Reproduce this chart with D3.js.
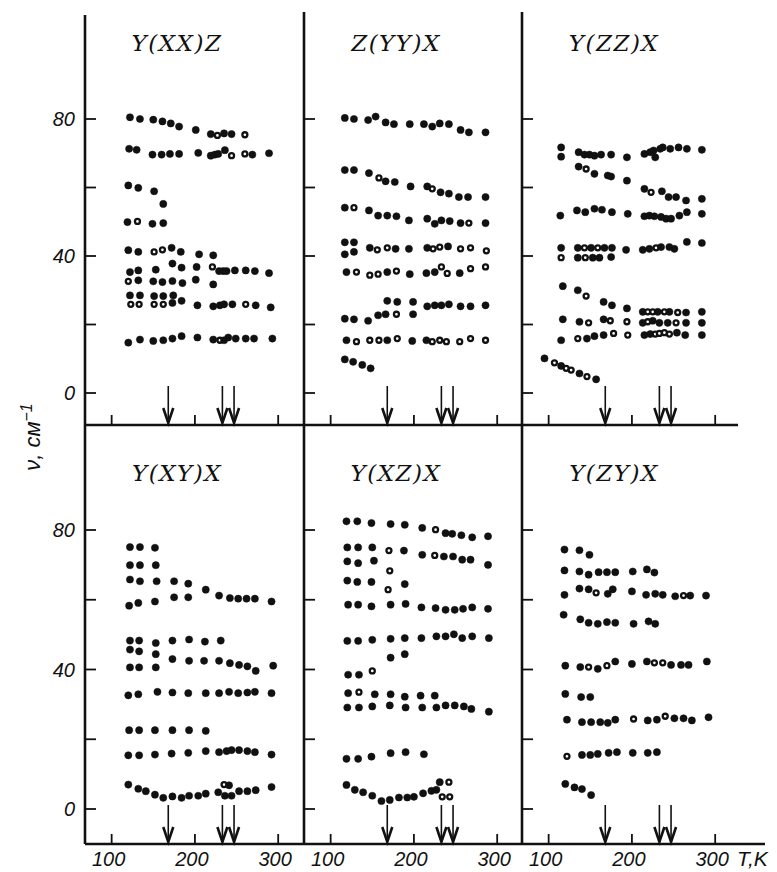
<!DOCTYPE html>
<html>
<head>
<meta charset="utf-8">
<script src="https://cdn.jsdelivr.net/npm/d3@7"></script>
<style>
  html, body { margin: 0; padding: 0; background: #fff; }
  svg { display: block; }
  .num { font-family: "Liberation Sans", sans-serif; font-style: italic; font-size: 20px; fill: #111; }
  .title { font-family: "DejaVu Serif", serif; font-style: italic; font-size: 23px; letter-spacing: 1.5px; fill: #111; }
</style>
</head>
<body>
<div id="chart"></div>
<script>
// Raman modes vs temperature, six scattering geometries.
// Each point: [T (K), frequency (cm^-1)], a third element 1 marks an open circle.
const titles = ["Y(XX)Z", "Z(YY)X", "Y(ZZ)X", "Y(XY)X", "Y(XZ)X", "Y(ZY)X"];
const xTicks = [100, 200, 300];
const yTicks = [0, 20, 40, 60, 80];
const yTickLabels = [0, 40, 80];
const arrowsT = [168, 233, 247];   // phase transition marks

const yxxz = [
  [122,80.5],[134,80],[150,79.8],[161,79.3],[171,78.7],[181,77.8],[201,76.8],[219,75.6],[227,75.2,1],[235,75.8],[244,75.6],[260,75.4,1],
  [121,71.3],[130,71],[149,69.6],[160,69.6],[170,69.8],[181,69.8],[204,70.1],[219,69.3],[224,69.6],[228,69.8],[236,70.9],[244,69.3,1],[260,69.8,1],[269,69.6],[289,70],
  [120,60.6],[132,59.9],[151,58.9],[162,55.2],
  [119,49.9],[131,50.1,1],[149,49.4],[162,49.6],
  [120,41.7],[132,41.2],[151,41.2,1],[161,41.8,1],[172,42.4],[183,41.2],[205,40.5],[222,40.2],
  [122,35.3],[132,35.8],[153,36],[173,37.8],[184,36.6],[202,36.8],[221,36.8,1],[229,35.6],[234,35.6],[238,35.6],[248,35.8],[261,35.8],[272,35.6],[289,35],
  [120,32.6,1],[132,32.9],[150,32.6],[161,32.4],[173,32.7],[185,32.1],[201,33.1],[222,31.7],
  [122,28.5],[134,28.5],[151,28.3],[162,28.3],[174,28.5],
  [123,25.9,1],[133,25.9,1],[151,25.9,1],[162,25.9,1],[173,26.3],[184,26.9],[203,25.6],[222,25.3],[230,25.6],[235,25.9],[245,25.9],[261,25.9,1],[273,25.6],[291,25],
  [120,14.7],[134,15.6],[150,15.2],[162,15.4],[173,15.9],[184,16.6],[203,16.2],[222,15.6],[230,15.4,1],[235,15.4],[240,16.2],[249,15.9],[261,15.9],[271,15.9],[293,15.9]
];

const zyyx = [
  [117,80.3],[128,80],[145,79.7],[154,80.7],[166,79],[176,78.5],[195,78.5],[212,78.5],[222,77.8],[231,78.7],[242,78.5],[256,76.8],[266,76.1],[286,76.1],
  [117,65.1],[128,65.1],[146,64.2],[158,62.8,1],[166,61.8],[177,61.6],[196,60.3],[216,60.3],[222,59.6,1],[232,58.6],[242,58.2],[254,57.2],[265,57.2],[286,57.2],
  [117,54.1],[128,54.1,1],[146,53.3],[157,51.8],[168,51.8],[179,51.6],[194,50.4],[216,50.9],[225,49.4],[233,50.4],[243,50.2],[256,49.6],[266,49.6,1],[286,49.6],
  [117,44],[128,44],
  [117,40.5],[128,41.2],[147,42.4],[156,41.8,1],[168,42.4,1],[178,42.1],[194,42.1],[216,42.4],[223,42.1,1],[231,42.6,1],[241,42.8],[256,42.1,1],[268,42.4,1],[287,41.5,1],
  [119,35.3],[131,35.3,1],[147,34.4,1],[157,34.7,1],[168,35.3],[179,35.6,1],[195,34.7],[215,35],[225,35.3],[233,36.8,1],[240,34.9,1],[255,35],[268,36.3,1],[286,36.8,1],
  [168,26.9],[180,26.6],[199,26.6],[216,25.3],[225,25.6],[233,25.6],[242,25.9],[256,25.3],[268,25.3],[286,25.6],
  [117,21.7],[128,21.5],[145,21.1],[157,22.7],[166,23],[179,23,1],[199,23],
  [119,15.4],[131,15,1],[147,15.4,1],[158,15.4,1],[168,15.4],[180,15.9,1],[198,15.2],[215,15.4],[222,15,1],[231,15.4,1],[239,15,1],[255,15,1],[268,15.9,1],[286,15.4,1],
  [117,9.8],[127,9.1],[138,8.2],[148,7.2]
];

const yzzx = [
  [115,71.7],[115,69],[136,70.3],[143,69.6],[149,69.6],[155,69.3],[163,69.6],[175,69.6],[194,68.8],[215,69.8],[222,70.3],[226,70.8],[228,68.8],[234,71.3],[237,71.7],[246,71.3],[256,71.7],[266,71.3],[284,71],
  [136,66.1],[145,65.4,1],[155,64],[171,63.5],[175,63.2],[194,62],[215,59.6],[223,58.6,1],[236,58.9],[244,57.2],[253,57.2],[265,56.2],[284,56.7],
  [114,51.8],[134,53.3],[144,52.8],[155,53.8],[164,53.5],[176,52.8],[195,52.3],[215,51.6],[221,51.8],[227,51.6],[235,51.4],[241,50.9],[247,50.9],[257,51.8],[266,52.8],[284,52.3],
  [115,42.4],[135,42.4],[143,42.4,1],[151,42.4],[159,42.4,1],[167,42.4],[176,42.4],[193,41.8],[213,41.8],[221,42.1],[229,42.4,1],[235,42.6],[245,42.6],[251,42.1],[266,44.1],[284,43.8],
  [115,39.5,1],[135,39.5],[144,39.5,1],[153,39.5],[161,39.5],[175,39.7],
  [117,31.2],[135,30],[145,28.3,1],[166,26.6],[176,25.6],[194,24.7],[213,23.7],[219,23.7,1],[225,23.7,1],[231,23.7],[239,23.7,1],[245,23.7],[255,23.5,1],[265,23.5],[284,23.7],
  [117,21.5],[137,20.8],[148,20.5,1],[166,21.5],[174,21.1,1],[194,20.8,1],[213,20.5],[219,20.8,1],[225,21.1],[233,20.5],[243,20.5],[253,20.5,1],[265,20.5],[284,20.5],
  [115,15.4],[135,15.9,1],[146,15.9],[155,16.6],[166,16.9],[178,17.4,1],[195,16.9,1],[215,16.9],[222,17.2],[228,17.2,1],[233,17.4,1],[239,17.6,1],[245,17.2,1],[254,17.6],[264,16.9],[284,16.9],
  [95,10.1],[107,8.8,1],[115,7.9],[121,7.2,1],[127,6.7,1],[137,5.7],[146,4.8,1],[157,4]
];

const yxyx = [
  [122,75.1],[134,75.1],[152,74.9],
  [122,69.9],[134,69.9],[153,69.9],
  [122,65.8],[134,65.3],[154,65.3],[175,65.3],[192,64.6],
  [121,58.3],[132,59.1],[152,59.5],[175,60.7],[192,60.7],[213,62.9],[229,61.2],[242,60.5],[252,60.3],[262,60.3],[272,60.3],[292,59.5],
  [122,48.3],[133,48.3],[153,47.6],[173,48.3],[193,48.6],[212,48],[231,48.3],
  [122,45.7],[133,45.2],[153,44.4],
  [173,43],[193,42.5],[211,42.5],[229,42.5],[242,41.8],[253,41.3],[263,40.9],[273,39.6],[294,41.1],
  [122,40.6],[133,40.6],[153,40.6],
  [120,32.6],[132,32.9],[155,33.6],[173,33.4],[192,33.2],[213,33.2],[229,33.2],[241,33.6],[252,33.2],[263,33.4],[272,33.6],[292,33.2],
  [121,22.6],[133,22.6],[152,22.6],[173,22.6],[193,22.6],[213,22.4],
  [120,15.4],[133,15.4],[152,15.6],[172,15.9],[192,16.1],[213,16.6],[229,16.3],[238,16.6],[244,16.9],[253,16.9],[263,16.6],[272,16.3],[292,15.6],
  [120,7],[132,5.8],[141,5.1],[152,4.1],[162,3.2],[173,3.6],[184,3.2],[193,3.8],[204,3.8],[213,4.4],[228,4.8],[235,7,1],[241,6.8],[236,3.8],[244,3.8],[253,5.1],[263,5.1],[273,5.4],[292,6.3]
];

const yxzx = [
  [119,82.5],[132,82.5],[149,82],[172,81.7],[189,81.5],[210,80.6],[226,80.1,1],[238,79.1],[246,78.9],[257,78.5],[270,77.9],[289,78.2],
  [120,75],[133,75],[150,75],[170,74.1,1],[188,74.1],[210,72.9],[225,72.7,1],[236,72.4],[247,72.4],[258,71.5],[268,71.5],[289,70],
  [120,71],[133,70.5],[152,71.2],
  [171,68.3,1],
  [120,65.5],[132,65.1],[149,65.1],
  [189,64.5],[169,62.9,1],
  [121,58.6],[133,58.6],[149,58.1],[172,58.6],[190,58.8],[209,57.8],[226,57.6],[238,57.1],[249,57.1],[259,57.4],[270,57.8],[289,57.4],
  [120,48.2],[133,48.2],[150,48.5],[172,48.8],[189,49],[209,49],[227,49.5],[238,49.5],[248,50.1],[258,49],[270,49.5],[290,49],
  [172,43.4],[189,44.4],
  [121,38.5],[134,38.5],[150,39.6,1],
  [121,33.2],[134,33.5,1],[153,32.9],[172,32.9],[189,32.2],[208,32.5],[225,32.5],
  [120,29.1],[134,29.1],[150,29.4],[171,29.7],[190,29.1],[210,29.1],[227,29.1],[238,29.7],[249,29.7],[260,29.4],[269,28.7],[290,27.9],
  [119,14.4],[133,14.4],[149,15],[172,16],[190,16.3],[212,15.7],
  [119,6.9],[129,5.5],[139,4.8],[150,3.8],[161,2.3],[171,2.6],[182,3.3],[192,3.3],[200,3.5],[211,4.5],[221,5.2],[227,5.5],[231,7.7],[242,7.7,1],[234,3.5,1],[243,3.5,1]
];

const yzyx = [
  [119,74.4],[137,74.2],[149,72.9],
  [119,68.4],[137,68.1],[148,67.2],[160,67.9],[170,67.9],[180,67.9],[201,68.1],[218,68.7],[227,67.8],
  [119,61.4],[137,63.2],[148,63],[157,62,1],[171,61.7],[177,63],[200,62.4],[217,61.4],[228,61.7],[237,61.4],[252,61],[262,61.2,1],[270,61.2],[289,61.2],
  [118,55.7],[138,54.4],[148,53.4],[159,53.1],[170,53.6],[180,53.4],[202,53.1],[220,53.8],[228,53.1],
  [120,41.1],[138,40.7],[148,40.7,1],[159,40.2],[170,41.1,1],[180,42.3],[200,41.6],[218,42.3],[227,41.9,1],[237,41.9,1],[247,41.3],[259,41.3],[268,41.3],[290,42.3],
  [120,33],[139,32.1],[150,32.1],
  [122,25.6],[140,24.9],[151,24.9],[162,24.9],[171,24.7],[180,25.6],[202,25.8,1],[219,25.4],[230,25.6],[240,26.6,1],[251,26],[262,26],[272,25.4],[292,26.3],
  [122,15.1,1],[140,15.5],[150,15.5],[159,15.8],[172,16.1],[182,16.3],[201,16.1],[219,16.1],[230,16.3],
  [120,7.2],[131,6.2],[140,5.7],[151,4]
];

const panelData = [yxxz, zyyx, yzzx, yxyx, yxzx, yzyx];

// layout: three columns share an x range, two rows stacked
const W = 777, H = 872;
const colLeft = [85, 304, 522];
const colW = 219;
const rows = [
  { top: 12, bottom: 425, y0: 393, y80: 119, titleY: 51 },
  { top: 425, bottom: 844, y0: 809, y80: 530, titleY: 481 }
];

const svg = d3.select("#chart").append("svg")
  .attr("width", W).attr("height", H)
  .attr("viewBox", `0 0 ${W} ${H}`);

const ink = "#111";

panelData.forEach((data, i) => {
  const col = i % 3, row = rows[Math.floor(i / 3)];
  const left = colLeft[col];
  const x = d3.scaleLinear().domain([68, 331]).range([left, left + colW]);
  const y = d3.scaleLinear().domain([0, 80]).range([row.y0, row.y80]);
  const g = svg.append("g");

  // left border of each panel
  g.append("line")
    .attr("x1", left).attr("x2", left)
    .attr("y1", i === 0 ? 15 : row.top).attr("y2", row.bottom)
    .attr("stroke", ink).attr("stroke-width", 2.6);

  // y ticks point into the panel
  g.selectAll(".yt").data(yTicks).join("line")
    .attr("x1", left).attr("x2", left + 11)
    .attr("y1", d => y(d)).attr("y2", d => y(d))
    .attr("stroke", ink).attr("stroke-width", 1.8);

  // x ticks point up from the panel floor
  g.selectAll(".xt").data(xTicks).join("line")
    .attr("x1", d => x(d)).attr("x2", d => x(d))
    .attr("y1", row.bottom).attr("y2", row.bottom - 10)
    .attr("stroke", ink).attr("stroke-width", 1.8);

  if (col === 0) {
    g.selectAll(".yl").data(yTickLabels).join("text")
      .attr("class", "num")
      .attr("x", left - 10).attr("y", d => y(d) + 7)
      .attr("text-anchor", "end")
      .text(d => d);
  }

  if (i >= 3) {
    g.selectAll(".xl").data(xTicks).join("text")
      .attr("class", "num")
      .attr("x", d => x(d) - 3).attr("y", 866)
      .attr("text-anchor", "middle")
      .text(d => d);
  }

  g.append("text").attr("class", "title")
    .attr("x", left + 92).attr("y", row.titleY)
    .attr("text-anchor", "middle")
    .text(titles[i]);

  // transition arrows
  arrowsT.forEach(t => {
    const ax = x(t), ay = row.bottom - 2;
    g.append("line")
      .attr("x1", ax).attr("x2", ax)
      .attr("y1", ay - 37).attr("y2", ay)
      .attr("stroke", ink).attr("stroke-width", 1.6);
    g.append("path")
      .attr("d", `M${ax - 5},${ay - 15} L${ax},${ay} L${ax + 5},${ay - 15}`)
      .attr("fill", "none").attr("stroke", ink).attr("stroke-width", 2.6);
  });

  // open circles are drawn as a thick ring with a small light centre
  g.selectAll(".pt").data(data).join("circle")
    .attr("cx", d => x(d[0])).attr("cy", d => y(d[1]))
    .attr("r", d => d[2] ? 2.5 : 3.6)
    .attr("fill", d => d[2] ? "#fff" : ink)
    .attr("stroke", ink)
    .attr("stroke-width", d => d[2] ? 2.3 : 0.5);
});

// frame lines between rows and along the bottom
svg.append("line")
  .attr("x1", 85).attr("x2", 738).attr("y1", 425).attr("y2", 425)
  .attr("stroke", ink).attr("stroke-width", 2.6);
svg.append("line")
  .attr("x1", 85).attr("x2", 765).attr("y1", 844).attr("y2", 844)
  .attr("stroke", ink).attr("stroke-width", 2.6);

// axis titles
svg.append("text").attr("class", "num")
  .attr("x", 737).attr("y", 866)
  .style("font-size", "21px")
  .text("T,K");

const yl = svg.append("text").attr("class", "num")
  .attr("transform", "translate(40,437) rotate(-90)")
  .attr("text-anchor", "middle")
  .style("font-size", "22px");
yl.append("tspan").text("ν, см");
yl.append("tspan").attr("dy", -8).style("font-size", "16px").text("−1");
</script>
</body>
</html>
